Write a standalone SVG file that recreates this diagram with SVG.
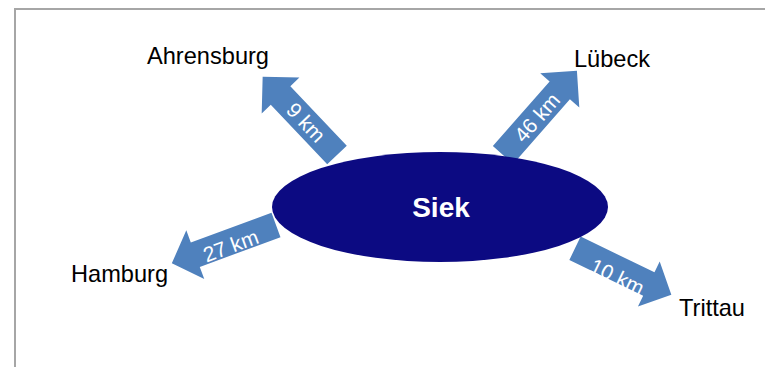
<svg xmlns="http://www.w3.org/2000/svg" width="765" height="367" viewBox="0 0 765 367">
<style>
.frame{fill:none;stroke:#a6a6a6;stroke-width:2}
.arr{fill:#4f81bd}
.lbl{font-family:"Liberation Sans",Arial,sans-serif;font-size:23.6px;fill:#000}
.km{font-family:"Liberation Sans",Arial,sans-serif;font-size:21px;fill:#fff;text-anchor:middle}
.hub{fill:#0c0a82}
.hubt{font-family:"Liberation Sans",Arial,sans-serif;font-size:28px;font-weight:bold;fill:#fff;text-anchor:middle}
</style>
<rect width="765" height="367" fill="#fff"/>
<path class="frame" d="M15,367 V9 H765"/>
<g id="connectors">
  <g id="arrow-ahrensburg">
    <path class="arr" transform="translate(337,155) rotate(-133.5)" d="M0,-13.5 H82 V-26 L108,0 L82,26 V13.5 H0 Z"/>
    <text class="km" transform="translate(306,122.4) rotate(46.5)" dy=".35em">9 km</text>
  </g>
  <g id="arrow-luebeck">
    <path class="arr" transform="translate(503,155) rotate(-48.7)" d="M0,-13.5 H86 V-26 L112,0 L86,26 V13.5 H0 Z"/>
    <text class="km" transform="translate(537,117.5) rotate(-48.7)" dy=".35em">46 km</text>
  </g>
  <g id="arrow-hamburg">
    <path class="arr" transform="translate(276,225) rotate(159.8)" d="M0,-13 H86 V-26 L111,0 L86,26 V13 H0 Z"/>
    <text class="km" transform="translate(230.7,245.7) rotate(-20.2)" dy=".35em">27 km</text>
  </g>
  <g id="arrow-trittau">
    <path class="arr" transform="translate(575,248.3) rotate(25.8)" d="M0,-13 H82 V-25 L107,0 L82,25 V13 H0 Z"/>
    <text class="km" transform="translate(617.3,276.7) rotate(25.8)" dy=".35em">10 km</text>
  </g>
</g>
<g id="siek">
  <ellipse class="hub" cx="440" cy="207" rx="168" ry="55"/>
  <text class="hubt" x="441" y="217">Siek</text>
</g>
<g id="ahrensburg"><text class="lbl" x="147" y="64">Ahrensburg</text></g>
<g id="luebeck"><text class="lbl" x="574" y="67">Lübeck</text></g>
<g id="hamburg"><text class="lbl" x="71" y="282">Hamburg</text></g>
<g id="trittau"><text class="lbl" x="679" y="316">Trittau</text></g>
</svg>
